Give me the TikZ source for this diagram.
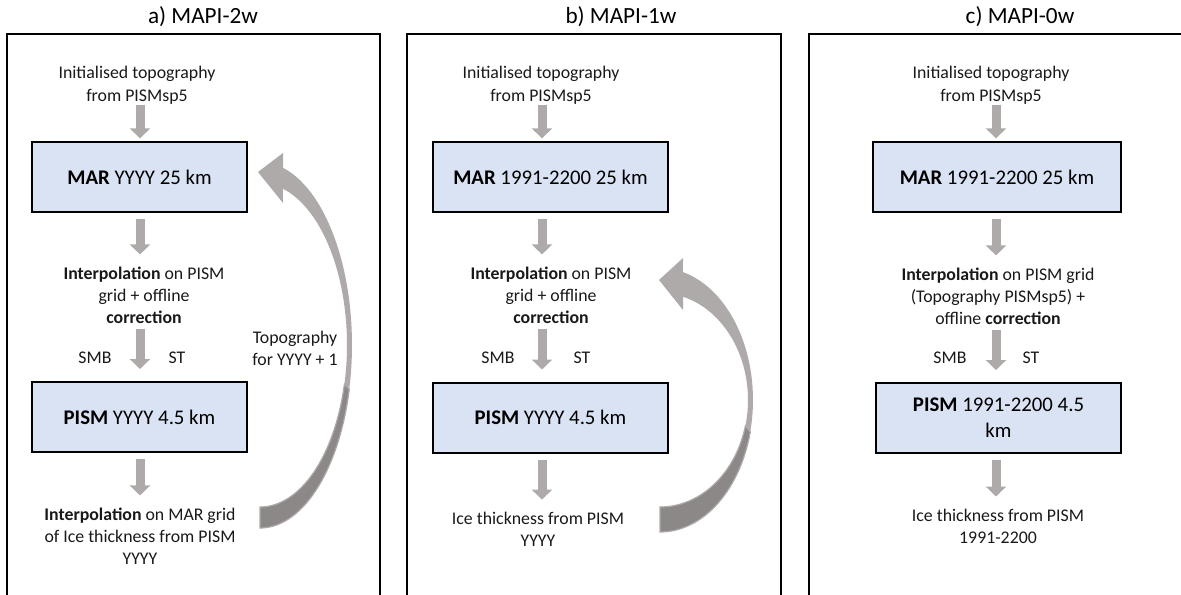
\documentclass[tikz,border=0pt]{standalone}
\usepackage{fontspec}
\setmainfont{Carlito}
\usetikzlibrary{arrows.meta,calc}
\definecolor{boxfill}{HTML}{DAE3F3}
\definecolor{agray}{HTML}{AEAAAA}
\definecolor{dgray}{HTML}{8C8888}
\begin{document}
\begin{tikzpicture}[x=0.75pt,y=-0.75pt,
  txt/.style={align=center,font=\fontsize{13.35}{16.5}\selectfont,inner sep=0pt,text=black!90},
  inittxt/.style={txt,font=\fontsize{13.35}{17.5}\selectfont},
  ttl/.style={font=\fontsize{17.4}{20}\selectfont,inner sep=0pt},
  model/.style={draw=black,line width=1.5pt,fill=boxfill,minimum height=52.5pt,align=center,inner sep=0pt,font=\fontsize{15.6}{19.5}\selectfont},
  flow/.style={draw=agray,line width=6.75pt,-{Triangle[width=15pt,length=7.5pt]}},
  frame/.style={draw=black,line width=2pt},
  band/.style={fill=agray},
  bandback/.style={fill=dgray,draw=agray,line width=0.9pt}]
\useasboundingbox (0,0) rectangle (1181,594);

% frames
\draw[frame] (7,600) -- (7,34) -- (380,34) -- (380,600);
\draw[frame] (407,600) -- (407,34) -- (781,34) -- (781,600);
\draw[frame] (809,600) -- (809,34) -- (1190,34);

% titles
\node[ttl] (ta) at (203,17) {a) MAPI-2w};
\node[ttl] (tb) at (621,17) {b) MAPI-1w};
\node[ttl] (tc) at (1020,17) {c) MAPI-0w};

% ---------- panel a ----------
\coordinate (xa) at (140,0);
\node[inittxt] (ia) at (137,85) {Initialised topography\\from PISMsp5};
\node[model,minimum width=161.25pt] (mara) at (139.5,177) {\textbf{MAR} YYYY 25 km};
\node[txt] (pa) at (144,295) {\textbf{Interpolation} on PISM\\grid + offline\\\textbf{correction}};
\node[txt] (smba) at (95,358) {SMB};
\node[txt] (sta) at (177,358) {ST};
\node[model,minimum width=161.25pt] (pisma) at (139.5,417) {\textbf{PISM} YYYY 4.5 km};
\node[txt] (oa) at (140,536) {\textbf{Interpolation} on MAR grid\\of Ice thickness from PISM\\YYYY};
\node[txt] (topo) at (295,348) {Topography\\for YYYY + 1};

\draw[flow,shorten >=2pt] (xa |- ia.south) -- (xa |- mara.north);
\draw[flow,shorten <=4.5pt,shorten >=9pt] (xa |- mara.south) -- (xa |- pa.north);
\draw[flow,shorten <=4pt,shorten >=9pt] (xa |- pa.south) -- (xa |- pisma.north);
\draw[flow,shorten <=4.5pt,shorten >=9pt] (xa |- pisma.south) -- (xa |- oa.north);

% curved arrow a
\fill[band] plot[domain=-90:75.5,samples=60] ({260+92*cos(\x)},{345-183*sin(\x)})
  -- (283,153) -- (258,172) -- (283,203)
  -- plot[domain=74.7:-90,samples=60] ({260+87*cos(\x)},{345-162*sin(\x)}) -- cycle;
\filldraw[bandback] plot[domain=-90:-14,samples=40] ({260+92*cos(\x)},{345-183*sin(\x)})
  -- plot[domain=-14:-90,samples=40] ({260+87*cos(\x)},{345-162*sin(\x)}) -- cycle;

% ---------- panel b ----------
\coordinate (xb) at (542,0);
\node[inittxt] (ib) at (541,85) {Initialised topography\\from PISMsp5};
\node[model,minimum width=176.25pt] (marb) at (550.5,177) {\textbf{MAR} 1991-2200 25 km};
\node[txt] (pb) at (551,295) {\textbf{Interpolation} on PISM\\grid + offline\\\textbf{correction}};
\node[txt] (smbb) at (498,358) {SMB};
\node[txt] (stb) at (582,358) {ST};
\node[model,minimum width=176.25pt] (pismb) at (550.5,417.5) {\textbf{PISM} YYYY 4.5 km};
\node[txt] (ob) at (538,529) {Ice thickness from PISM\\YYYY};

\draw[flow,shorten >=2pt] (xb |- ib.south) -- (xb |- marb.north);
\draw[flow,shorten <=4.5pt,shorten >=9pt] (xb |- marb.south) -- (xb |- pb.north);
\draw[flow,shorten <=4pt,shorten >=9pt] (xb |- pb.south) -- (xb |- pismb.north);
\draw[flow,shorten <=4.5pt,shorten >=9pt] (xb |- pismb.south) -- (xb |- ob.north);

% curved arrow b
\fill[band] plot[domain=-90:75.7,samples=60] ({660+93*cos(\x)},{400-132*sin(\x)})
  -- (683,258) -- (659,280) -- (683,310)
  -- plot[domain=74.85:-90,samples=60] ({660+88*cos(\x)},{400-107*sin(\x)}) -- cycle;
\filldraw[bandback] plot[domain=-90:-14,samples=40] ({660+93*cos(\x)},{400-132*sin(\x)})
  -- plot[domain=-14:-90,samples=40] ({660+88*cos(\x)},{400-107*sin(\x)}) -- cycle;

% ---------- panel c ----------
\coordinate (xc) at (996,0);
\node[inittxt] (ic) at (991,85) {Initialised topography\\from PISMsp5};
\node[model,minimum width=186pt] (marc) at (997,177) {\textbf{MAR} 1991-2200 25 km};
\node[txt] (pc) at (998,296) {\textbf{Interpolation} on PISM grid\\(Topography PISMsp5) +\\offline \textbf{correction}};
\node[txt] (smbc) at (950,358) {SMB};
\node[txt] (stc) at (1031,358) {ST};
\node[model,minimum width=183.75pt] (pismc) at (998.5,418) {\textbf{PISM} 1991-2200 4.5\\km};
\node[txt] (oc) at (998,526) {Ice thickness from PISM\\1991-2200};

\draw[flow,shorten >=2pt] (xc |- ic.south) -- (xc |- marc.north);
\draw[flow,shorten <=4.5pt,shorten >=9pt] (xc |- marc.south) -- (xc |- pc.north);
\draw[flow,shorten <=4pt,shorten >=9pt] (xc |- pc.south) -- (xc |- pismc.north);
\draw[flow,shorten <=4.5pt,shorten >=9pt] (xc |- pismc.south) -- (xc |- oc.north);
\end{tikzpicture}
\end{document}
